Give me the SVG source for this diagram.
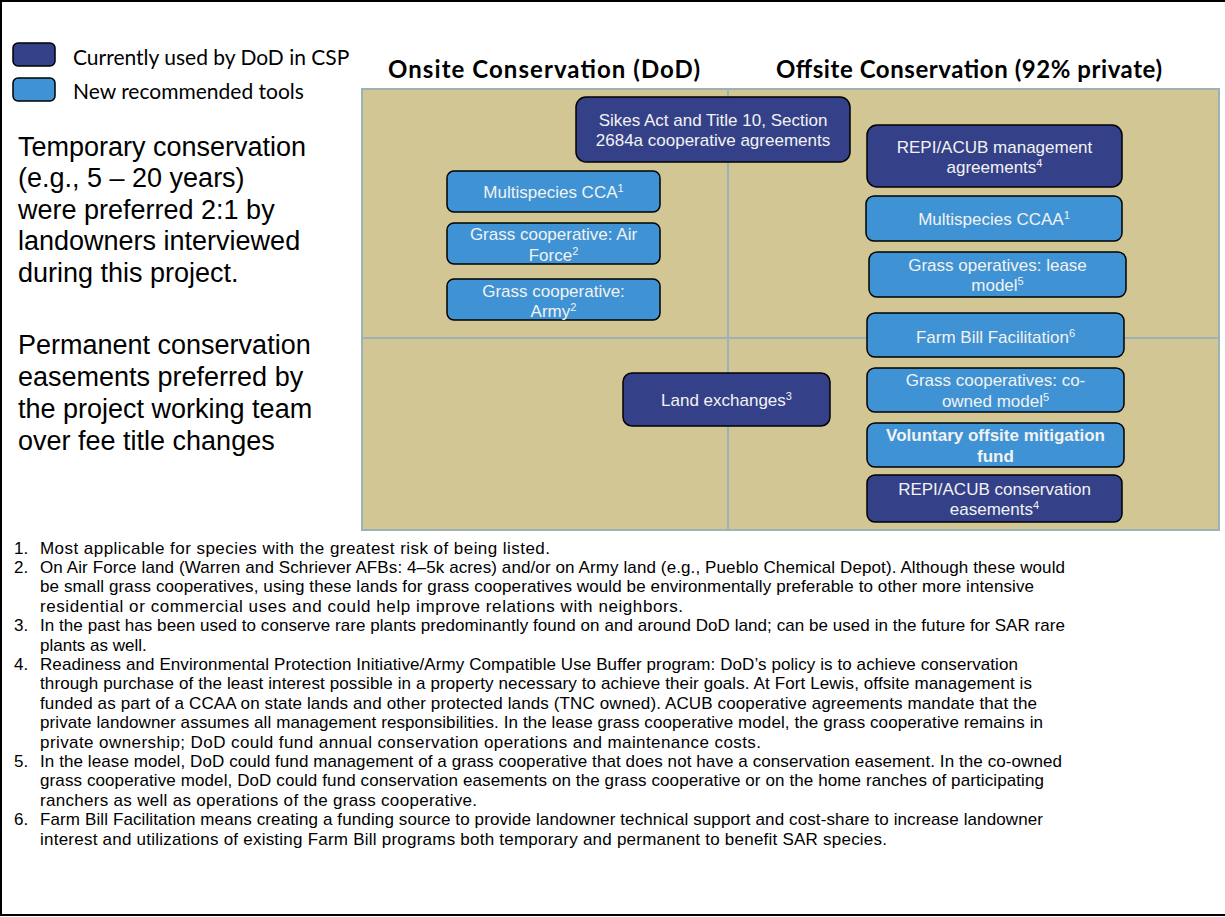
<svg xmlns="http://www.w3.org/2000/svg" width="1225" height="917" viewBox="0 0 1225 917">
<style>
.frame{fill:none;stroke:#000;stroke-width:2}
.panel{fill:#D3C695;stroke:#9DB2B6;stroke-width:2}
.div{stroke:#9DB2B6;stroke-width:2}
.dk{fill:#344189;stroke:#000;stroke-width:1.5}
.lt{fill:#3F92D3;stroke:#000;stroke-width:1.5}
.bt{font-family:"Liberation Sans",Arial,sans-serif;font-size:17px;fill:#F2F2F2;text-anchor:middle}
.sup{font-size:11px}
.ttl{font-family:Lato,"Liberation Sans",sans-serif;font-weight:bold;font-size:24px;fill:#000}
.leg{font-family:Lato,"Liberation Sans",sans-serif;font-size:21px;fill:#000}
.side{font-family:"Liberation Sans",Arial,sans-serif;font-size:27px;fill:#000}
.fn{font-family:"Liberation Sans",Arial,sans-serif;font-size:17px;fill:#000}
</style>
<rect class="frame" x="1" y="1" width="1230" height="914"/>

<g id="legend">
<rect x="13" y="43" width="42" height="23" rx="5" fill="#344189" stroke="#000" stroke-width="1.5"/>
<rect x="13" y="78" width="42" height="23" rx="5" fill="#3F92D3" stroke="#000" stroke-width="1.5"/>
<text class="leg" x="73" y="65">Currently used by DoD in CSP</text>
<text class="leg" x="73" y="99">New recommended tools</text>
</g>

<g id="titles">
<text class="ttl" x="388" y="78" textLength="312">Onsite Conservation (DoD)</text>
<text class="ttl" x="776" y="78" textLength="386">Offsite Conservation (92% private)</text>
</g>

<g id="side-notes">
<text class="side" x="18" y="156">Temporary conservation</text>
<text class="side" x="18" y="187">(e.g., 5 – 20 years)</text>
<text class="side" x="18" y="219">were preferred 2:1 by</text>
<text class="side" x="18" y="250">landowners interviewed</text>
<text class="side" x="18" y="282">during this project.</text>
<text class="side" x="18" y="354">Permanent conservation</text>
<text class="side" x="18" y="386">easements preferred by</text>
<text class="side" x="18" y="418">the project working team</text>
<text class="side" x="18" y="450">over fee title changes</text>
</g>

<g id="panel">
<rect class="panel" x="362" y="89" width="857" height="441"/>
<line class="div" x1="728" y1="89" x2="728" y2="530"/>
<line class="div" x1="362" y1="338" x2="1219" y2="338"/>
</g>

<g id="connectors"></g>

<g id="n-sikes">
<rect class="dk" x="576" y="97" width="274" height="65" rx="10"/>
<text class="bt" x="713" y="126">Sikes Act and Title 10, Section</text>
<text class="bt" x="713" y="146">2684a cooperative agreements</text>
</g>
<g id="n-cca">
<rect class="lt" x="447" y="171" width="213" height="41" rx="7"/>
<text class="bt" x="553.5" y="198">Multispecies CCA<tspan class="sup" dy="-6">1</tspan></text>
</g>
<g id="n-airforce">
<rect class="lt" x="447" y="223" width="213" height="41" rx="7"/>
<text class="bt" x="553.5" y="240">Grass cooperative: Air</text>
<text class="bt" x="553.5" y="260.5">Force<tspan class="sup" dy="-6">2</tspan></text>
</g>
<g id="n-army">
<rect class="lt" x="447" y="279" width="213" height="41" rx="7"/>
<text class="bt" x="553.5" y="296.5">Grass cooperative:</text>
<text class="bt" x="553.5" y="317">Army<tspan class="sup" dy="-6">2</tspan></text>
</g>
<g id="n-land">
<rect class="dk" x="623" y="373" width="207" height="53" rx="9"/>
<text class="bt" x="726.5" y="406">Land exchanges<tspan class="sup" dy="-6">3</tspan></text>
</g>
<g id="n-repi-mgmt">
<rect class="dk" x="867" y="125" width="255" height="62" rx="10"/>
<text class="bt" x="994.5" y="153">REPI/ACUB management</text>
<text class="bt" x="994.5" y="173">agreements<tspan class="sup" dy="-6">4</tspan></text>
</g>
<g id="n-ccaa">
<rect class="lt" x="866" y="196" width="256" height="45" rx="8"/>
<text class="bt" x="994" y="225">Multispecies CCAA<tspan class="sup" dy="-6">1</tspan></text>
</g>
<g id="n-lease">
<rect class="lt" x="869" y="252" width="257" height="45" rx="8"/>
<text class="bt" x="997.5" y="271">Grass operatives: lease</text>
<text class="bt" x="997.5" y="291">model<tspan class="sup" dy="-6">5</tspan></text>
</g>
<g id="n-farmbill">
<rect class="lt" x="867" y="313" width="257" height="44" rx="8"/>
<text class="bt" x="995.5" y="343">Farm Bill Facilitation<tspan class="sup" dy="-6">6</tspan></text>
</g>
<g id="n-coowned">
<rect class="lt" x="867" y="368" width="257" height="44" rx="8"/>
<text class="bt" x="995.5" y="386">Grass cooperatives: co-</text>
<text class="bt" x="995.5" y="406.5">owned model<tspan class="sup" dy="-6">5</tspan></text>
</g>
<g id="n-voluntary">
<rect class="lt" x="867" y="423" width="257" height="44" rx="8"/>
<text class="bt" x="995.5" y="441" font-weight="bold">Voluntary offsite mitigation</text>
<text class="bt" x="995.5" y="462" font-weight="bold">fund</text>
</g>
<g id="n-repi-cons">
<rect class="dk" x="867" y="475" width="255" height="47" rx="8"/>
<text class="bt" x="994.5" y="495">REPI/ACUB conservation</text>
<text class="bt" x="994.5" y="515">easements<tspan class="sup" dy="-6">4</tspan></text>
</g>

<g id="footnotes">
<text class="fn" x="14" y="553.5">1.</text>
<text class="fn" x="40" y="553.5" textLength="510">Most applicable for species with the greatest risk of being listed.</text>
<text class="fn" x="14" y="573">2.</text>
<text class="fn" x="40" y="573" textLength="1025">On Air Force land (Warren and Schriever AFBs: 4–5k acres) and/or on Army land (e.g., Pueblo Chemical Depot). Although these would</text>
<text class="fn" x="40" y="592.3" textLength="994">be small grass cooperatives, using these lands for grass cooperatives would be environmentally preferable to other more intensive</text>
<text class="fn" x="40" y="611.7" textLength="643">residential or commercial uses and could help improve relations with neighbors.</text>
<text class="fn" x="14" y="631">3.</text>
<text class="fn" x="40" y="631" textLength="1025">In the past has been used to conserve rare plants predominantly found on and around DoD land; can be used in the future for SAR rare</text>
<text class="fn" x="40" y="650.5">plants as well.</text>
<text class="fn" x="14" y="670">4.</text>
<text class="fn" x="40" y="670" textLength="978">Readiness and Environmental Protection Initiative/Army Compatible Use Buffer program: DoD’s policy is to achieve conservation</text>
<text class="fn" x="40" y="689.3" textLength="992">through purchase of the least interest possible in a property necessary to achieve their goals. At Fort Lewis, offsite management is</text>
<text class="fn" x="40" y="708.7" textLength="997">funded as part of a CCAA on state lands and other protected lands (TNC owned). ACUB cooperative agreements mandate that the</text>
<text class="fn" x="40" y="728" textLength="1003">private landowner assumes all management responsibilities. In the lease grass cooperative model, the grass cooperative remains in</text>
<text class="fn" x="40" y="747.5" textLength="721">private ownership; DoD could fund annual conservation operations and maintenance costs.</text>
<text class="fn" x="14" y="767">5.</text>
<text class="fn" x="40" y="767" textLength="1022">In the lease model, DoD could fund management of a grass cooperative that does not have a conservation easement. In the co-owned</text>
<text class="fn" x="40" y="786.3" textLength="1004">grass cooperative model, DoD could fund conservation easements on the grass cooperative or on the home ranches of participating</text>
<text class="fn" x="40" y="805.7" textLength="437">ranchers as well as operations of the grass cooperative.</text>
<text class="fn" x="14" y="825">6.</text>
<text class="fn" x="40" y="825" textLength="1003">Farm Bill Facilitation means creating a funding source to provide landowner technical support and cost-share to increase landowner</text>
<text class="fn" x="40" y="844.5" textLength="847">interest and utilizations of existing Farm Bill programs both temporary and permanent to benefit SAR species.</text>
</g>
</svg>
